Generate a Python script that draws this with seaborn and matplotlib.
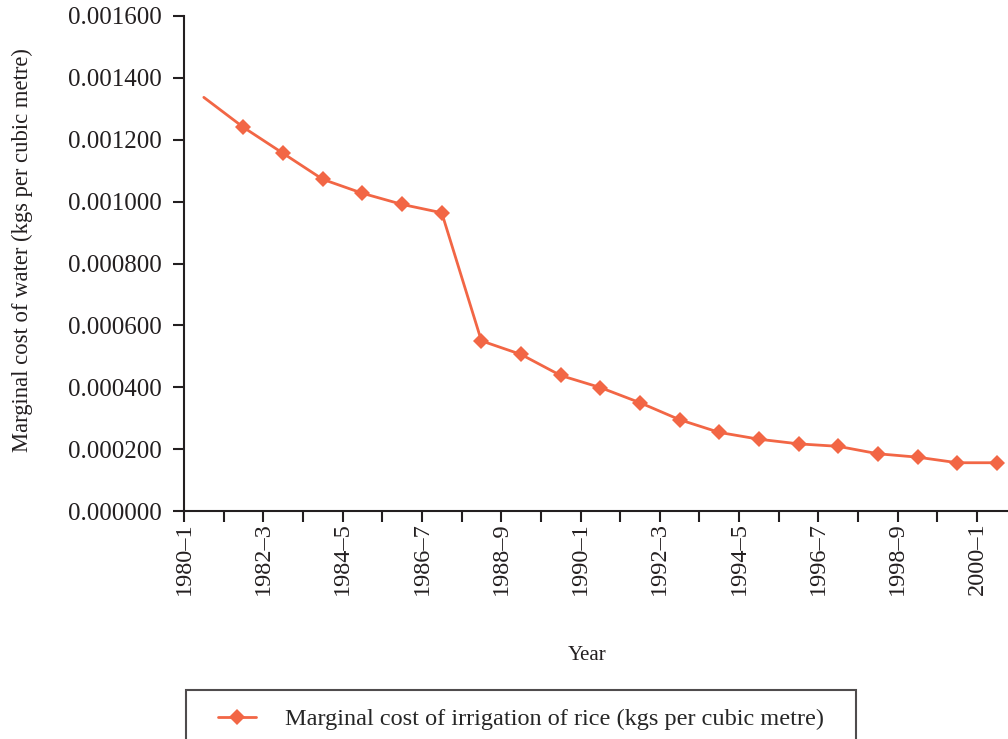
import matplotlib
matplotlib.use("Agg")
import matplotlib.pyplot as plt
import numpy as np
import pandas as pd
import seaborn as sns
from matplotlib.lines import Line2D
from matplotlib.legend_handler import HandlerLine2D

# data
years = ['1980–1', '1981–2', '1982–3', '1983–4', '1984–5', '1985–6', '1986–7',
         '1987–8', '1988–9', '1989–90', '1990–1', '1991–2', '1992–3', '1993–4',
         '1994–5', '1995–6', '1996–7', '1997–8', '1998–9', '1999–2000', '2000–1']
cost = [0.001337, 0.001240, 0.001156, 0.001072, 0.001027, 0.000991, 0.000964,
        0.000550, 0.000506, 0.000438, 0.000399, 0.000350, 0.000295, 0.000254,
        0.000232, 0.000217, 0.000209, 0.000185, 0.000174, 0.000156, 0.000156]
series_name = 'Marginal cost of irrigation of rice (kgs per cubic metre)'

sns.set_style('white')
plt.rcParams['font.family'] = ['Liberation Serif', 'DejaVu Serif']
colour = '#F26645'
axis_col = '#231F20'


# legend handle that leaves some space on its left, like the original box
class ShiftedHandler(HandlerLine2D):
    def get_xdata(self, legend, xdescent, ydescent, width, height, fontsize):
        x0 = -xdescent + 0.27 * width
        x1 = -xdescent + width
        return [x0, x1], [(x0 + x1) / 2]


df = pd.DataFrame({'year': years, 'cost': cost})
df['pos'] = np.arange(len(df)) + 0.5   # points sit between the tick marks

fig = plt.figure(figsize=(10.08, 7.39), dpi=100)
ax = fig.add_axes([184 / 1008, 1 - 511 / 739, 1 - 184 / 1008, (511 - 16) / 739])

sns.lineplot(data=df, x='pos', y='cost', ax=ax, color=colour, linewidth=2,
             marker='D', markersize=8.5, markeredgewidth=0,
             markevery=list(range(1, len(df))))

ax.set_xlim(0, 20.78)
ax.set_ylim(0, 0.0016)
yt = np.arange(0, 0.00161, 0.0002)
ax.set_yticks(yt)
ax.set_yticklabels([f'{v:.6f}' for v in yt])
ax.set_xticks(np.arange(len(df)))
ax.set_xticklabels([y if i % 2 == 0 else '' for i, y in enumerate(years)],
                   rotation=90)

sns.despine(ax=ax)
for s in ['left', 'bottom']:
    ax.spines[s].set_color(axis_col)
    ax.spines[s].set_linewidth(1.5)
ax.tick_params(axis='both', bottom=True, left=True, direction='out', length=8,
               width=1.5, color=axis_col, labelsize=18, labelcolor=axis_col)
ax.tick_params(axis='y', pad=8)
ax.tick_params(axis='x', pad=0, labelsize=17.5)

ax.set_xlabel('Year', fontsize=15, color=axis_col, va='top')
ax.xaxis.set_label_coords((587 - 184) / 824, (511 - 646) / 495)
ax.set_ylabel('Marginal cost of water (kgs per cubic metre)', fontsize=16.3,
              color=axis_col, va='center')
ax.yaxis.set_label_coords((22 - 184) / 824, (511 - 250) / 495)

handle = Line2D([], [], color=colour, linewidth=2, marker='D', markersize=8.5,
                markeredgewidth=0)
leg = fig.legend([handle], [series_name], loc='upper left', mode='expand',
                 bbox_to_anchor=(186 / 1008, 0, 670 / 1008, 1 - 690 / 739),
                 fontsize=17.5, frameon=True, fancybox=False,
                 edgecolor=axis_col, borderpad=0.75, handlelength=2.14,
                 handletextpad=1.2, borderaxespad=0,
                 handler_map={Line2D: ShiftedHandler()})
leg.get_frame().set_linewidth(1.5)

fig.savefig('out.png', dpi=100)
